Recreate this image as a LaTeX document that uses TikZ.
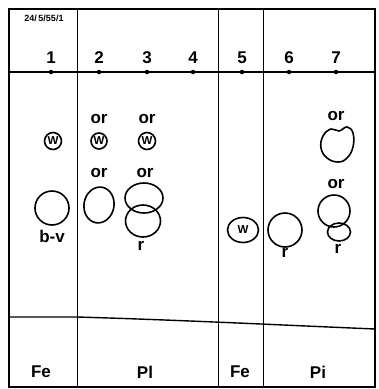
\documentclass[tikz,border=0pt]{standalone}
\usepackage{fontspec}
\setmainfont{Liberation Sans}
\begin{document}
\begin{tikzpicture}[x=1pt,y=-1pt,
  frame/.style={line width=2pt},
  rule/.style={line width=0.9pt},
  base/.style={line width=1.4pt},
  spot/.style={line width=1.6pt},
  lab/.style={inner sep=0pt,font=\fontsize{17}{17}\selectfont\bfseries},
  small/.style={inner sep=0pt,font=\fontsize{9}{9}\selectfont\bfseries},
  wlab/.style={inner sep=0pt,font=\fontsize{11.5}{11.5}\selectfont\bfseries},
  dot/.style={circle,fill=black,inner sep=0pt,minimum size=4.5pt}]
\useasboundingbox (0,0) rectangle (379,389);
% frame and column rules
\draw[frame] (9,9) rectangle (375,387);
\draw[rule] (77,9) -- (77,387);
\draw[rule] (218,9) -- (218,387);
\draw[rule] (263,9) -- (263,387);
% start line with application points
\coordinate (bl) at (9,72);
\coordinate (br) at (375,72);
\draw[base] (bl) -- (br);
\foreach \n/\x in {1/51,2/99,3/147,4/193,5/242,6/289,7/336}{
  \node[dot] (d\n) at (\x,72) {};
  \node[lab] (n\n) at (\x,58) {\n};
}
% solvent front
\coordinate (f0) at (9,317);
\coordinate (f1) at (77,317);
\coordinate (f2) at (375,329);
\draw[base] (f0) -- (f1) .. controls (180,320) and (280,325) .. (f2);
% header label
\node[small] (hdr) at (44,18) {24/\,5/55/1};
% column 1
\draw[spot] (53,141) circle (8.5);
\node[wlab] (w1) at (53,141) {W};
\draw[spot] (52,208) circle (17);
\node[lab] (bv) at (52,236) {b-v};
% column 2
\node[lab] (or2a) at (99,119) {or};
\draw[spot] (99,141) circle (8);
\node[wlab] (w2) at (99,141) {W};
\node[lab] (or2b) at (99,173) {or};
\draw[spot,rotate around={-10:(99,205)}] (99,205) ellipse (15 and 18);
% column 3
\node[lab] (or3a) at (147,119) {or};
\draw[spot] (147,141) circle (8.5);
\node[wlab] (w3) at (147,141) {W};
\node[lab] (or3b) at (145,173) {or};
\draw[spot] (144,198) ellipse (19 and 15);
\draw[spot] (143,221) ellipse (17.5 and 16);
\node[lab] (r3) at (141,246) {r};
% column 5
\draw[spot] (243,230) ellipse (15.5 and 12.5);
\node[wlab] (w5) at (243,230) {W};
% column 6
\draw[spot] (285,230) circle (17);
\node[lab] (r6) at (285,253) {r};
% column 7
\node[lab] (or7a) at (336,116) {or};
\draw[spot] plot[smooth cycle,tension=0.7] coordinates {
  (323,136) (331,129) (339,131) (347,127) (353,133) (353,147) (347,158) (338,162) (327,158) (321,148)};
\node[lab] (or7b) at (336,184) {or};
\draw[spot] (334,211) ellipse (16 and 16);
\draw[spot] (339,232) ellipse (11.5 and 9);
\node[lab] (r7) at (338,249) {r};
% bottom labels
\node[lab] (fe1) at (41,372) {Fe};
\node[lab] (pl) at (145,372) {Pl};
\node[lab] (fe2) at (240,372) {Fe};
\node[lab] (pi) at (318,372) {Pi};
\end{tikzpicture}
\end{document}
